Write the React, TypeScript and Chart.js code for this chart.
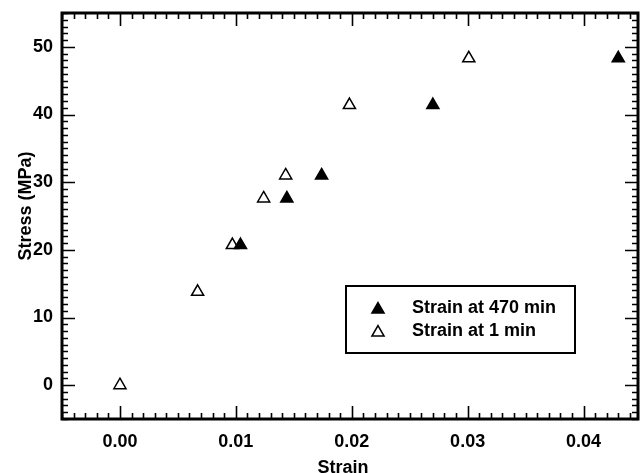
import { useEffect, useRef } from "react";
import { Chart, registerables } from "chart.js";

Chart.register(...registerables);

// Stress–strain readings at two creep times
const strain470 = [0.0104, 0.0144, 0.0174, 0.027, 0.043];
const stress470 = [20.7, 27.6, 31.0, 41.4, 48.3];
const strain1 = [0, 0.0067, 0.0097, 0.0124, 0.0143, 0.0198, 0.0301];
const stress1 = [0, 13.8, 20.7, 27.6, 31.0, 41.4, 48.3];
const seriesLabels = ["Strain at 470 min", "Strain at 1 min"];

const xTicks = [0, 0.01, 0.02, 0.03, 0.04];
const yTicks = [0, 10, 20, 30, 40, 50];
const xMinorStep = 0.001;
const yMinorStep = 1;
const xTitle = "Strain";
const yTitle = "Stress (MPa)";

const FONT = '"Liberation Sans", Arial, Helvetica, sans-serif';

function triangle(ctx: CanvasRenderingContext2D, x: number, y: number, r: number, filled: boolean) {
  ctx.beginPath();
  let rad = 0;
  ctx.moveTo(x + Math.sin(rad) * r, y - Math.cos(rad) * r);
  for (let i = 0; i < 2; i++) {
    rad += (2 * Math.PI) / 3;
    ctx.lineTo(x + Math.sin(rad) * r, y - Math.cos(rad) * r);
  }
  ctx.closePath();
  ctx.lineWidth = 1.5;
  ctx.strokeStyle = "#000";
  if (filled) {
    ctx.fillStyle = "#000";
    ctx.fill();
  }
  ctx.stroke();
}

const framePlugin = {
  id: "frame",
  afterDraw(chart: any) {
    const ctx: CanvasRenderingContext2D = chart.ctx;
    const { left, right, top, bottom } = chart.chartArea;
    const xs = chart.scales.x;
    const ys = chart.scales.y;
    ctx.save();
    ctx.strokeStyle = "#000";

    // inward ticks on all four sides
    ctx.lineWidth = 1.6;
    const major = 13;
    const minor = 6;
    const isMajor = (v: number, list: number[]) => list.some((t) => Math.abs(t - v) < 1e-9);
    const xStart = Math.ceil(xs.min / xMinorStep - 1e-9);
    const xEnd = Math.floor(xs.max / xMinorStep + 1e-9);
    for (let i = xStart; i <= xEnd; i++) {
      const v = i * xMinorStep;
      const px = Math.round(xs.getPixelForValue(v)) + 0.5;
      const len = isMajor(v, xTicks) ? major : minor;
      ctx.beginPath();
      ctx.moveTo(px, bottom);
      ctx.lineTo(px, bottom - len);
      ctx.moveTo(px, top);
      ctx.lineTo(px, top + len);
      ctx.stroke();
    }
    const yStart = Math.ceil(ys.min / yMinorStep - 1e-9);
    const yEnd = Math.floor(ys.max / yMinorStep + 1e-9);
    for (let i = yStart; i <= yEnd; i++) {
      const v = i * yMinorStep;
      const py = Math.round(ys.getPixelForValue(v)) + 0.5;
      const len = isMajor(v, yTicks) ? major : minor;
      ctx.beginPath();
      ctx.moveTo(left, py);
      ctx.lineTo(left + len, py);
      ctx.moveTo(right, py);
      ctx.lineTo(right - len, py);
      ctx.stroke();
    }

    // plot frame
    ctx.lineWidth = 3;
    ctx.strokeRect(left, top, right - left, bottom - top);

    // axis titles
    ctx.fillStyle = "#000";
    ctx.font = `bold 18px ${FONT}`;
    ctx.textAlign = "center";
    ctx.textBaseline = "alphabetic";
    ctx.fillText(xTitle, (left + right) / 2 - 7, 473);
    ctx.save();
    ctx.translate(31, (top + bottom) / 2 - 10);
    ctx.rotate(-Math.PI / 2);
    ctx.textBaseline = "alphabetic";
    ctx.fillText(yTitle, 0, 0);
    ctx.restore();

    // legend box
    const bx = 346, by = 286, bw = 229, bh = 67;
    ctx.lineWidth = 2;
    ctx.strokeRect(bx, by, bw, bh);
    chart.data.datasets.forEach((ds: any, i: number) => {
      const rowY = by + 22 + i * 23;
      triangle(ctx, bx + 32, rowY + 1.5, 7, ds.backgroundColor !== "#ffffff");
      ctx.fillStyle = "#000";
      ctx.textAlign = "left";
      ctx.textBaseline = "middle";
      ctx.font = `bold 18px ${FONT}`;
      ctx.fillText(ds.label, bx + 66, rowY);
    });
    ctx.restore();
  },
};

const noPadding = (axis: any) => {
  axis.paddingLeft = 0;
  axis.paddingRight = 0;
  axis.paddingTop = 0;
  axis.paddingBottom = 0;
};

export default function App() {
  const ref = useRef<HTMLCanvasElement | null>(null);

  useEffect(() => {
    document.body.style.margin = "0";
    const canvas = ref.current;
    if (!canvas) return;
    const toPoints = (xs: number[], ys: number[]) => xs.map((x, i) => ({ x, y: ys[i] }));
    const chart = new Chart(canvas, {
      type: "scatter",
      data: {
        datasets: [
          {
            label: seriesLabels[0],
            data: toPoints(strain470, stress470),
            pointStyle: "triangle",
            pointRadius: 7,
            pointBorderWidth: 1.5,
            borderColor: "#000000",
            backgroundColor: "#000000",
          },
          {
            label: seriesLabels[1],
            data: toPoints(strain1, stress1),
            pointStyle: "triangle",
            pointRadius: 7,
            pointBorderWidth: 1.5,
            borderColor: "#000000",
            backgroundColor: "#ffffff",
          },
        ],
      },
      options: {
        responsive: false,
        animation: false,
        events: [],
        layout: { autoPadding: false, padding: { left: 0, top: 13, right: 2, bottom: 0 } },
        plugins: {
          legend: { display: false },
          tooltip: { enabled: false },
        },
        scales: {
          x: {
            type: "linear",
            min: -0.005,
            max: 0.0447,
            grid: { display: false, drawTicks: false },
            border: { display: false },
            afterBuildTicks: (axis: any) => {
              axis.ticks = xTicks.map((v) => ({ value: v }));
            },
            afterFit: (axis: any) => {
              axis.height = 54;
              noPadding(axis);
            },
            ticks: {
              color: "#000",
              padding: 12,
              maxRotation: 0,
              font: { family: FONT, size: 18, weight: "bold" },
              callback: (v: any) => Number(v).toFixed(2),
            },
          },
          y: {
            type: "linear",
            min: -5,
            max: 55,
            grid: { display: false, drawTicks: false },
            border: { display: false },
            afterBuildTicks: (axis: any) => {
              axis.ticks = yTicks.map((v) => ({ value: v }));
            },
            afterFit: (axis: any) => {
              axis.width = 62;
              noPadding(axis);
            },
            ticks: {
              color: "#000",
              padding: 9,
              font: { family: FONT, size: 18, weight: "bold" },
              callback: (v: any) => String(v),
            },
          },
        },
      },
      plugins: [framePlugin],
    });
    return () => chart.destroy();
  }, []);

  return (
    <div style={{ width: 640, height: 473, background: "#fff" }}>
      <canvas ref={ref} width={640} height={473} style={{ display: "block" }} />
    </div>
  );
}
